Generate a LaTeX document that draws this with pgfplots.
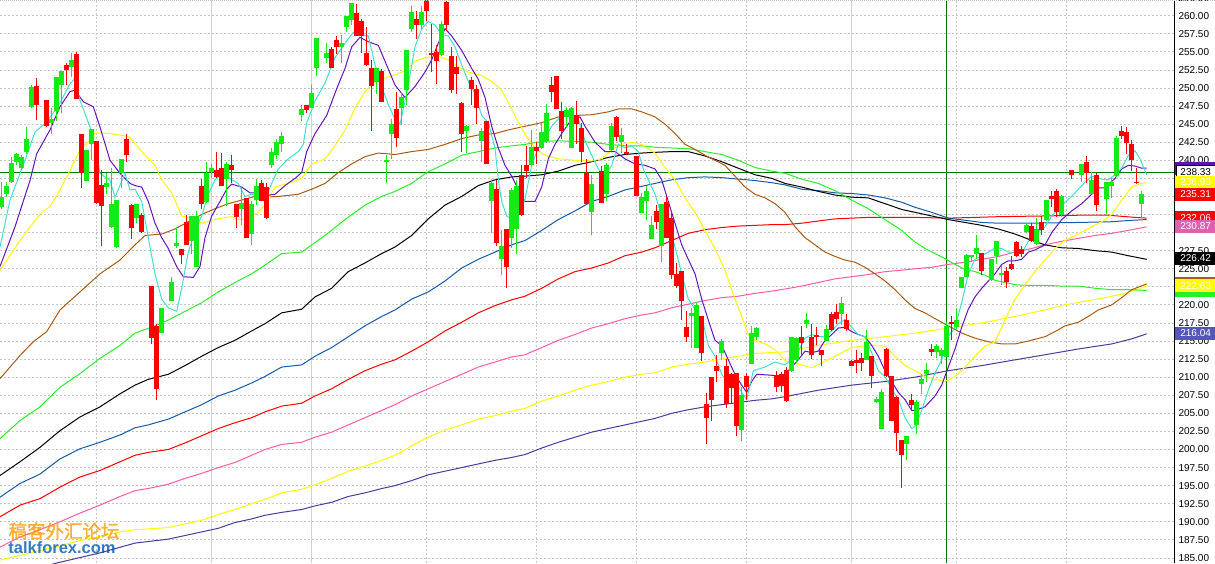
\documentclass[border=0pt]{standalone}
\usepackage{pgfplots}
\pgfplotsset{compat=1.18}
\usepackage{pgfplotstable}
\usepackage{fontspec}
\setmainfont{Liberation Sans}
\newfontfamily\cjk{Noto Sans CJK SC}[FakeBold=1.5]
\definecolor{cgreen}{RGB}{20,235,20}
\definecolor{cred}{RGB}{255,0,0}
\definecolor{macyan}{RGB}{64,224,208}
\definecolor{mapurple}{RGB}{100,20,190}
\definecolor{mayellow}{RGB}{255,255,0}
\definecolor{mabrown}{RGB}{170,90,20}
\definecolor{magreen}{RGB}{40,240,40}
\definecolor{mablue}{RGB}{20,90,170}
\definecolor{mapink}{RGB}{255,90,170}
\definecolor{maslate}{RGB}{70,60,160}
\definecolor{cursor}{RGB}{0,120,0}
\definecolor{boxpink}{RGB}{225,95,175}
\definecolor{boxblue}{RGB}{85,85,190}
\definecolor{boxpurple}{RGB}{90,20,180}

\pgfplotstableread{
x o h l c
1.5 233.6 237.0 233.3 234.9
6.5 235.4 237.0 234.9 236.5
11.5 237.0 240.5 236.8 239.6
16.5 239.8 241.0 239.4 240.9
21.5 238.9 240.7 238.7 240.5
26.5 241.2 244.6 240.9 242.9
31.5 247.4 250.4 247.2 250.2
51.5 245.2 247.3 243.6 245.7
56.5 246.8 251.5 245.5 251.5
61.5 250.4 252.3 246.5 252.3
71.5 252.9 254.9 251.5 253.9
86.5 237.2 241.4 237.2 241.4
91.5 242.3 244.3 240.0 244.3
106.5 236.3 238.3 235.3 236.9
111.5 230.8 238.9 230.7 234.0
116.5 228.0 234.5 227.9 234.5
121.5 238.3 240.2 236.1 240.2
136.5 232.0 233.9 231.3 233.9
161.5 216.1 219.6 216.1 219.6
171.5 220.6 223.8 220.6 223.2
176.5 228.1 230.6 227.9 228.6
191.5 228.8 232.3 227.1 232.3
196.5 225.2 233.0 225.2 232.3
206.5 234.2 239.8 234.1 238.2
211.5 238.4 239.5 237.5 238.9
226.5 237.4 239.7 233.7 239.5
241.5 233.2 236.1 231.0 234.1
251.5 229.8 234.3 228.3 233.9
256.5 234.5 237.4 233.8 236.5
271.5 239.3 241.7 238.9 241.1
276.5 240.7 243.0 240.2 242.5
281.5 242.2 243.9 241.2 243.4
301.5 246.3 247.7 245.5 247.1
311.5 247.2 250.4 247.2 249.3
316.5 252.8 256.9 251.7 256.9
326.5 254.2 256.2 253.5 254.9
341.5 255.7 257.3 253.5 256.2
346.5 258.5 260.0 257.7 259.9
351.5 259.4 261.7 258.7 261.7
376.5 250.8 252.7 249.2 252.7
386.5 239.7 240.7 236.8 240.0
391.5 243.6 245.7 240.2 245.0
401.5 247.2 249.5 244.9 248.8
406.5 249.7 255.3 247.7 255.3
411.5 258.2 261.4 257.7 260.5
421.5 258.7 261.4 258.2 260.5
441.5 254.6 259.3 254.4 258.9
466.5 244.0 244.9 241.0 244.8
481.5 242.7 244.5 239.8 244.1
491.5 234.4 237.4 230.0 236.9
501.5 226.4 230.3 224.2 228.1
511.5 229.2 236.2 227.8 235.9
516.5 230.5 237.3 227.1 236.4
531.5 239.4 244.2 239.3 241.8
541.5 241.7 245.1 241.5 243.9
546.5 242.6 247.8 242.4 246.6
566.5 246.0 247.4 244.5 247.0
571.5 241.7 247.4 241.7 247.2
591.5 232.9 237.9 229.7 236.7
606.5 235.4 239.6 234.3 239.4
611.5 241.4 245.1 241.3 244.7
621.5 242.5 244.5 241.0 243.5
641.5 232.7 235.5 232.7 234.9
646.5 234.4 236.5 231.8 235.7
651.5 229.1 232.3 229.1 231.0
661.5 228.2 233.9 225.9 233.9
691.5 218.4 219.6 214.0 218.9
696.5 214.0 220.4 214.0 220.0
721.5 213.4 215.3 212.4 215.0
741.5 202.7 208.6 201.2 207.6
751.5 211.8 217.1 211.8 216.1
756.5 215.5 217.0 215.1 216.8
791.5 210.8 215.6 210.7 215.6
796.5 212.4 215.6 212.0 215.4
806.5 217.4 218.9 216.8 217.9
826.5 215.0 217.2 215.0 216.6
841.5 218.8 221.1 217.2 220.3
866.5 212.4 216.5 212.4 214.9
876.5 206.5 207.2 206.4 207.0
881.5 202.8 208.4 202.8 208.0
906.5 200.8 201.8 198.6 201.8
916.5 203.4 206.9 202.2 206.6
921.5 209.0 210.4 207.7 209.7
926.5 210.4 212.0 209.4 211.0
936.5 213.5 214.6 212.6 214.3
941.5 212.9 214.0 211.8 213.8
946.5 212.8 217.6 212.8 217.1
956.5 216.9 219.6 216.7 217.9
961.5 222.3 223.8 222.3 223.8
966.5 223.9 227.0 223.8 226.9
971.5 226.6 226.9 225.9 226.9
976.5 227.1 229.6 226.4 227.8
991.5 223.4 226.4 223.3 226.4
996.5 226.7 228.8 225.7 228.8
1001.5 224.1 225.4 222.8 224.4
1026.5 230.1 231.3 229.9 231.0
1036.5 228.4 232.0 228.3 230.5
1046.5 231.7 234.5 231.6 234.5
1061.5 232.5 235.2 232.1 235.0
1081.5 238.0 239.5 237.0 239.5
1091.5 235.3 238.4 235.3 237.3
1106.5 234.7 237.0 232.6 237.0
1111.5 236.4 237.5 234.8 237.0
1116.5 237.8 243.3 237.7 243.1
1141.5 234.0 235.7 232.0 235.3
}\upc

\pgfplotstableread{
x o h l c
36.5 250.3 251.4 245.6 247.6
46.5 248.3 248.4 244.6 244.7
66.5 253.2 253.4 250.4 252.5
76.5 254.7 255.0 248.5 248.5
81.5 243.6 243.6 236.1 238.3
96.5 242.6 242.6 234.0 234.1
101.5 236.6 238.6 228.2 233.7
126.5 242.9 243.7 239.7 240.7
131.5 233.8 233.9 229.1 230.6
141.5 232.5 232.7 230.0 230.1
151.5 222.6 222.6 214.6 215.4
156.5 217.1 217.4 206.9 208.4
181.5 227.7 227.7 225.7 226.9
186.5 231.4 232.5 228.3 228.3
201.5 236.5 237.4 233.3 233.9
216.5 238.7 241.1 237.6 237.7
221.5 239.0 241.0 236.4 236.4
231.5 239.3 240.7 236.8 238.7
236.5 233.9 234.0 230.7 232.1
246.5 234.8 234.8 229.3 229.3
261.5 236.8 237.3 234.3 234.4
266.5 236.3 236.8 231.9 232.0
306.5 247.6 247.7 246.6 247.0
331.5 255.4 255.6 252.7 252.8
336.5 256.7 257.2 254.7 255.7
356.5 260.4 261.6 257.2 257.2
361.5 259.3 259.6 254.9 257.2
366.5 254.9 258.4 253.0 253.2
371.5 252.7 253.9 244.1 250.3
381.5 252.3 252.6 248.1 248.1
396.5 247.1 249.5 241.8 243.1
416.5 259.5 260.6 256.8 258.7
426.5 262.5 263.0 259.2 260.6
431.5 254.8 258.8 252.2 254.5
436.5 255.0 255.9 250.6 253.8
446.5 261.9 262.5 257.9 258.7
451.5 254.4 255.7 249.3 249.7
456.5 252.9 254.4 249.2 251.9
461.5 247.9 248.1 241.2 243.6
471.5 251.1 251.5 247.7 249.9
476.5 249.8 250.4 245.0 247.2
486.5 245.4 245.4 239.5 239.5
496.5 236.0 237.3 228.1 228.5
506.5 230.5 230.5 222.4 225.3
521.5 238.0 239.4 232.3 232.5
526.5 239.4 242.0 237.5 238.5
536.5 241.8 242.5 239.5 241.3
551.5 250.4 251.5 248.0 249.5
556.5 251.7 251.7 247.1 247.1
561.5 246.8 248.1 243.0 244.0
576.5 246.3 248.2 242.2 245.0
581.5 244.5 245.2 239.7 241.2
586.5 238.3 240.2 234.0 234.0
601.5 238.5 239.2 234.1 234.1
616.5 246.0 246.1 242.7 243.2
626.5 241.2 242.2 240.7 240.8
636.5 240.6 240.6 235.0 235.0
656.5 233.0 233.8 230.5 231.5
666.5 234.2 235.0 229.2 229.2
671.5 232.0 233.0 223.6 224.1
676.5 224.3 225.8 222.4 222.6
681.5 224.7 224.7 217.9 220.6
686.5 216.9 219.1 214.9 215.6
701.5 218.4 218.4 212.3 213.3
706.5 206.3 207.8 200.8 204.3
711.5 210.0 210.0 203.9 206.9
716.5 211.6 213.1 209.3 210.9
726.5 211.6 212.5 205.7 206.3
731.5 210.5 210.6 206.4 208.5
736.5 210.6 210.6 201.9 203.2
746.5 210.2 210.6 206.8 208.7
776.5 210.3 210.9 207.9 208.7
781.5 210.4 210.7 207.9 208.8
786.5 211.0 211.4 206.5 206.7
801.5 215.6 217.1 212.9 214.7
811.5 215.5 217.4 212.5 213.0
816.5 215.8 216.9 214.5 215.6
821.5 213.7 213.8 211.6 213.0
831.5 218.8 219.0 216.4 216.5
836.5 219.0 220.1 217.3 218.1
846.5 217.9 218.7 216.4 216.6
851.5 212.3 212.4 211.5 211.6
856.5 212.4 213.7 210.6 212.0
861.5 212.6 213.3 210.8 212.0
871.5 212.9 212.9 208.5 210.1
886.5 213.9 214.1 210.0 210.1
891.5 210.1 210.1 204.0 204.0
896.5 207.3 207.4 199.8 202.3
901.5 201.3 201.3 194.7 199.3
911.5 206.8 207.7 205.4 206.2
931.5 213.9 214.6 212.9 213.5
951.5 217.7 218.4 215.1 217.3
981.5 227.2 227.2 224.1 224.7
1006.5 224.7 225.3 222.4 223.1
1011.5 225.6 226.7 224.8 224.9
1016.5 228.7 228.9 226.6 226.8
1021.5 227.7 228.2 226.6 227.1
1031.5 230.9 231.3 228.7 228.8
1041.5 231.4 232.3 229.7 230.4
1051.5 235.1 235.8 233.5 234.7
1056.5 235.7 236.0 232.1 232.9
1071.5 238.6 238.7 237.4 237.9
1086.5 239.8 240.6 236.8 238.3
1096.5 237.9 238.2 233.0 233.8
1121.5 244.1 244.8 243.0 243.3
1126.5 243.9 244.6 240.8 242.4
1131.5 242.2 242.8 238.5 240.0
1136.5 237.0 239.0 236.7 236.8
}\downc

\tikzset{vbox/.style={anchor=west, minimum width=40.5pt, minimum height=13pt, inner sep=0pt, font=\fontsize{10}{12}\selectfont, text=white}}
\pgfplotsset{candle/.style={draw=none, mark=none, forget plot, error bars/.cd, y dir=plus, y explicit, error mark=none}}

\begin{document}
\begin{tikzpicture}
\useasboundingbox (0,0) rectangle (1215pt,563pt);
\begin{axis}[
 at={(0,0)}, anchor=south west,
 width=1174.3pt, height=563pt, scale only axis,
 xmin=0, xmax=1174.3, ymin=184.30, ymax=262.17,
 axis line style={draw=none},
 clip mode=individual,
 xtick={96.7,426.7,536.7,636.7,746.7,956.7,1066.7},
 extra x ticks={211.7,311.7,851.7},
 extra x tick style={grid style={solid, gray!35, line width=0.9pt}},
 xticklabels={}, extra x tick labels={},
 ytick={185,187.5,...,260},
 yticklabels={185.00,187.50,190.00,192.50,195.00,197.50,200.00,202.50,205.00,207.50,210.00,212.50,215.00,217.50,220.00,{},225.00,227.50,{},{},{},{},240.00,242.50,245.00,247.50,250.00,252.50,255.00,257.50,260.00},
 yticklabel pos=right,
 major tick length=0pt,
 xmajorgrids, ymajorgrids,
 grid style={gray!45, line width=0.8pt, dash pattern=on 2pt off 2pt},
 yticklabel style={anchor=west, font=\fontsize{10}{12}\selectfont, inner sep=0pt, xshift=4pt},
]
% cursor
\addplot[cursor, line width=1.2pt, forget plot] coordinates {(0,238.33) (1174.3,238.33)};
\addplot[cursor, line width=1pt, forget plot] coordinates {(946.7,184.3) (946.7,262.17)};

% long MAs
\addplot[maslate, line width=1pt] coordinates {(0,182.0) (56.7,184.3) (100,185.7) (135,187.05) (168.3,187.6) (201.7,188.6) (218.3,189.1) (235,189.9) (251.7,190.4) (265,190.9) (281.7,191.3) (301.7,191.7) (315,192.2) (331.7,192.7) (348.3,193.5) (365,194.0) (381.7,194.6) (395,195.0) (411.7,195.7) (428.3,196.5) (445,197.0) (461.7,197.5) (478.3,198.0) (495,198.5) (511.7,198.9) (525,199.3) (541.7,200.2) (558.3,201.0) (575,201.7) (591.7,202.4) (608.3,202.9) (625,203.4) (641.7,203.9) (655,204.3) (671.7,205.0) (688.3,205.5) (705,205.9) (721.7,206.2) (738.3,206.5) (755,206.8) (771.7,207.0) (785,207.3) (818.3,208.2) (851.7,208.9) (885,209.4) (915,210.0) (948.3,210.9) (981.7,211.6) (1015,212.4) (1045,213.1) (1078.3,213.9) (1111.7,214.6) (1131.7,215.3) (1146.7,216.0)};
\addplot[mayellow, line width=1pt] coordinates {(0,184.7) (40,186.0) (80,187.4) (120,188.6) (135,188.9) (168.3,189.2) (201.7,190.2) (218.3,191.0) (235,191.7) (251.7,192.5) (265,193.1) (281.7,194.0) (301.7,194.5) (315,195.1) (331.7,196.0) (348.3,197.0) (365,197.7) (381.7,198.5) (395,199.2) (411.7,200.5) (428.3,201.7) (445,202.7) (461.7,203.4) (478.3,204.2) (495,204.7) (511.7,205.3) (525,205.7) (541.7,206.7) (558.3,207.4) (575,208.2) (591.7,208.9) (608.3,209.4) (625,210.0) (641.7,210.4) (655,210.6) (671.7,211.4) (688.3,211.8) (705,212.1) (721.7,212.5) (738.3,212.9) (755,213.3) (771.7,213.4) (785,213.5) (818.3,214.4) (851.7,215.1) (885,215.6) (915,216.1) (948.3,216.8) (981.7,217.5) (1015,218.4) (1045,219.3) (1065,220.0) (1085,220.5) (1105,221.0) (1125,221.6) (1146.7,222.6)};
\addplot[mapink, line width=1pt] coordinates {(0,186.5) (20,187.9) (40,188.9) (60,190.0) (80,191.2) (100,192.3) (120,193.5) (135,194.3) (151.7,194.7) (168.3,195.2) (185,196.0) (201.7,196.7) (218.3,197.5) (235,198.2) (251.7,199.2) (265,200.0) (281.7,200.7) (301.7,201.0) (315,201.7) (331.7,202.4) (348.3,203.4) (365,204.4) (381.7,205.4) (395,206.2) (411.7,207.4) (428.3,208.4) (445,209.4) (461.7,210.4) (478.3,211.4) (495,212.1) (511.7,212.8) (525,213.1) (541.7,214.1) (558.3,215.1) (575,215.9) (591.7,216.8) (608.3,217.4) (625,218.1) (641.7,218.6) (655,218.9) (671.7,219.6) (688.3,220.1) (705,220.6) (721.7,221.0) (738.3,221.2) (755,221.6) (771.7,221.9) (785,222.2) (801.7,222.6) (818.3,223.1) (835,223.6) (851.7,223.9) (868.3,224.2) (885,224.6) (901.7,224.8) (915,225.0) (931.7,225.2) (948.3,225.6) (965,225.9) (981.7,226.3) (998.3,226.7) (1015,227.3) (1031.7,227.8) (1045,228.3) (1061.7,228.8) (1078.3,229.2) (1095,229.6) (1111.7,229.9) (1128.3,230.3) (1146.7,230.8)};
\addplot[cred, line width=1pt] coordinates {(0,190.7) (20,192.3) (40,193.2) (60,194.8) (80,196.2) (100,197.1) (120,198.3) (135,199.2) (148.3,199.6) (168.3,200.0) (185,200.9) (201.7,201.9) (218.3,202.9) (235,203.7) (251.7,204.4) (265,205.2) (281.7,206.0) (301.7,206.4) (315,207.4) (331.7,208.4) (348.3,209.7) (365,210.9) (381.7,211.8) (395,212.4) (411.7,213.6) (428.3,214.9) (445,216.4) (461.7,217.6) (478.3,218.9) (495,219.9) (511.7,220.7) (525,221.2) (541.7,222.3) (558.3,223.6) (575,224.6) (591.7,225.1) (608.3,225.8) (625,226.8) (641.7,227.3) (655,227.9) (671.7,228.9) (688.3,229.9) (705,230.4) (721.7,230.7) (738.3,230.9) (755,231.0) (771.7,231.1) (785,231.1) (801.7,231.3) (818.3,231.6) (835,231.9) (851.7,232.0) (868.3,232.1) (885,232.1) (915,232.1) (948.3,232.0) (975,232.1) (998.3,232.2) (1045,232.3) (1078.3,232.4) (1108.3,232.4) (1135,232.1) (1146.7,232.0)};
\addplot[mablue, line width=1pt] coordinates {(0,193.4) (20,195.3) (40,196.6) (60,198.7) (80,200.1) (100,201.0) (120,202.0) (135,203.0) (148.3,203.4) (168.3,204.2) (185,205.2) (201.7,206.2) (218.3,207.4) (235,208.2) (251.7,209.2) (265,210.1) (281.7,211.4) (301.7,211.7) (315,212.9) (331.7,214.1) (348.3,215.6) (365,217.1) (381.7,218.4) (395,219.3) (411.7,220.8) (428.3,221.8) (445,223.3) (461.7,225.1) (478.3,226.3) (495,227.3) (511.7,228.3) (525,228.9) (541.7,230.3) (558.3,231.8) (575,233.0) (591.7,234.3) (608.3,235.0) (625,235.9) (641.7,236.4) (655,236.8) (671.7,237.3) (688.3,237.6) (705,237.7) (721.7,237.6) (738.3,237.4) (755,237.2) (771.7,236.9) (785,236.6) (801.7,236.0) (818.3,235.8) (835,235.5) (851.7,235.4) (868.3,235.2) (885,234.8) (901.7,234.2) (915,233.5) (931.7,232.8) (948.3,232.0) (965,231.7) (981.7,231.4) (998.3,231.3) (1031.7,231.3) (1078.3,231.4) (1111.7,231.5) (1131.7,231.7) (1146.7,231.8)};
\addplot[black, line width=1pt] coordinates {(0,196.4) (20,198.3) (40,200.3) (60,202.6) (80,204.5) (100,205.9) (120,207.7) (135,208.9) (148.3,209.7) (168.3,210.4) (185,211.6) (201.7,212.9) (218.3,214.1) (235,215.1) (251.7,216.4) (265,217.4) (281.7,218.9) (301.7,219.4) (315,221.1) (331.7,222.3) (348.3,224.6) (365,225.8) (381.7,227.1) (395,228.0) (411.7,229.6) (428.3,231.9) (445,233.8) (461.7,235.0) (478.3,236.5) (495,237.3) (511.7,237.7) (525,237.8) (541.7,238.0) (558.3,238.5) (575,239.3) (591.7,239.8) (608.3,240.4) (625,240.8) (641.7,241.0) (655,241.1) (671.7,241.2) (688.3,241.2) (705,240.6) (721.7,239.8) (738.3,238.9) (755,238.0) (771.7,237.5) (785,236.8) (801.7,236.3) (818.3,235.7) (835,235.2) (851.7,234.9) (868.3,234.8) (885,234.0) (901.7,233.2) (915,232.8) (931.7,232.3) (948.3,231.8) (965,231.4) (981.7,231.0) (998.3,230.5) (1015,229.8) (1028.3,229.1) (1045,228.3) (1061.7,227.9) (1078.3,227.8) (1095,227.5) (1111.7,227.3) (1128.3,226.8) (1146.7,226.3)};
\addplot[magreen, line width=1pt] coordinates {(0,201.5) (20,204.0) (40,205.9) (60,208.6) (80,210.5) (100,212.6) (120,214.4) (135,216.1) (155,217.1) (168.3,217.9) (185,219.1) (201.7,220.3) (218.3,221.8) (235,223.1) (251.7,224.3) (265,225.5) (281.7,227.1) (301.7,227.3) (311.7,228.3) (325,229.6) (345,231.8) (365,233.8) (381.7,235.0) (395,235.7) (411.7,236.8) (426.7,238.3) (445,239.5) (461.7,240.7) (478.3,241.2) (495,241.7) (511.7,242.0) (525,242.2) (541.7,242.6) (558.3,242.7) (575,242.6) (591.7,242.5) (608.3,242.2) (625,242.0) (641.7,242.0) (655,241.8) (671.7,241.7) (688.3,241.6) (705,241.2) (721.7,240.8) (738.3,240.0) (755,239.0) (771.7,238.5) (785,238.2) (801.7,237.4) (818.3,236.8) (835,235.8) (851.7,234.5) (868.3,233.3) (885,231.8) (901.7,230.3) (915,228.7) (925,227.8) (935,227.1) (945,226.4) (955,225.6) (965,224.9) (975,224.6) (985,224.1) (995,223.4) (1005,223.1) (1015,222.8) (1025,222.7) (1045,222.7) (1061.7,222.6) (1078.3,222.6) (1095,222.3) (1111.7,222.1) (1128.3,222.1) (1146.7,222.0)};
\addplot[mabrown, line width=1pt] coordinates {(0,209.8) (20,213.0) (33.3,214.9) (46.7,216.3) (60,219.3) (80,221.8) (100,224.3) (120,226.2) (135,228.3) (145,229.6) (161.7,229.8) (175,230.5) (188.3,231.5) (201.7,232.5) (215,233.3) (228.3,234.0) (241.7,234.5) (255,235.0) (265,234.9) (278.3,235.0) (298.3,235.3) (311.7,236.0) (325,236.8) (338.3,238.3) (351.7,239.5) (365,240.5) (378.3,241.0) (395,240.8) (411.7,241.2) (428.3,241.5) (445,242.2) (461.7,243.0) (478.3,243.5) (495,243.7) (508.3,244.2) (525,244.7) (541.7,245.2) (558.3,246.0) (575,246.2) (591.7,246.3) (608.3,246.7) (618.3,247.1) (631.7,247.1) (641.7,246.7) (655,246.0) (665,245.0) (675,243.7) (685,242.2) (695,241.5) (705,240.7) (715,240.0) (725,239.3) (735,237.8) (745,236.3) (755,235.3) (765,234.8) (775,234.0) (785,232.8) (795,230.8) (805,229.3) (815,228.3) (825,227.3) (835,226.7) (845,226.2) (855,225.9) (865,225.2) (875,224.3) (885,223.3) (895,222.1) (905,220.7) (915,219.5) (925,218.9) (935,218.1) (948.3,217.1) (961.7,216.1) (975,215.4) (988.3,214.9) (1001.7,214.6) (1015,214.6) (1028.3,215.0) (1045,215.6) (1055,216.3) (1065,217.1) (1078.3,217.6) (1088.3,218.4) (1098.3,219.3) (1111.7,220.0) (1121.7,221.0) (1131.7,222.1) (1146.7,222.9)};
% MA20 yellow
\addplot[mayellow, line width=1pt] coordinates {(0,224.8) (20,228.9) (40,232.6) (50,233.6) (60,235.9) (70,238.6) (80,241.4) (90,242.8) (95,243.8) (110,243.7) (120,243.5) (130,243.2) (135,242.3) (145,240.7) (155,239.3) (161.7,237.3) (171.7,235.5) (181.7,232.3) (190,232.0) (201.7,231.3) (211.7,231.7) (221.7,232.0) (231.7,232.2) (238.3,231.8) (248.3,231.9) (258.3,232.8) (265,233.9) (275,236.3) (288.3,236.8) (301.7,237.5) (311.7,239.5) (325,240.2) (335,242.0) (345,244.2) (355,247.2) (365,249.5) (375,250.9) (385,251.4) (395,251.8) (405,252.4) (415,253.7) (425,254.2) (438.3,254.4) (448.3,253.9) (458.3,252.9) (468.3,252.2) (481.7,251.7) (491.7,250.9) (501.7,249.7) (508.3,248.0) (516.7,245.7) (525,243.6) (535,241.7) (545,240.7) (558.3,240.2) (575,240.0) (591.7,239.9) (601.7,240.2) (611.7,241.5) (621.7,242.2) (631.7,242.5) (641.7,242.2) (655,241.0) (665,239.0) (675,237.3) (685,234.8) (695,232.8) (705,230.3) (715,227.8) (725,224.8) (735,220.8) (741.7,218.4) (748.3,215.9) (755,215.1) (765,214.6) (775,213.8) (785,212.3) (811.7,211.3) (835,212.9) (851.7,214.1) (868.3,214.4) (885,214.3) (895,212.9) (905,211.6) (915,210.9) (925,210.1) (935,209.7) (945,209.4) (955,210.1) (965,211.4) (975,212.9) (985,214.3) (995,214.9) (1001.7,216.9) (1008.3,218.9) (1015,220.8) (1025,222.8) (1035,224.6) (1045,226.2) (1055,227.8) (1065,228.9) (1078.3,229.8) (1091.7,230.8) (1101.7,231.5) (1111.7,232.5) (1121.7,234.5) (1131.7,236.3) (1141.7,236.8) (1146.7,236.9)};
% MA10 purple
\addplot[mapurple, line width=1pt] coordinates {(0,225.3) (15,230.8) (30,237.2) (36.7,240.9) (50,244.2) (60,247.4) (70,249.5) (75,249.7) (83.3,248.1) (93.3,247.4) (100,244.6) (110,240.0) (120,238.2) (130,236.8) (135,236.5) (141.7,236.3) (148.3,234.3) (155,231.3) (161.7,229.3) (168.3,227.8) (176.7,225.3) (183.3,223.9) (193.3,223.8) (200,225.3) (205,229.3) (211.7,232.3) (220,234.3) (226.7,236.0) (231.7,236.7) (241.7,236.3) (250,235.5) (256.7,235.5) (265,235.1) (275,235.3) (285,236.5) (295,237.5) (301.7,238.3) (306.7,241.2) (315,243.7) (326.7,246.2) (336.7,249.9) (345,252.7) (351.7,255.7) (360,257.0) (368.3,256.4) (378.3,255.9) (385,253.7) (395,250.4) (405,248.7) (415,250.2) (425,252.2) (431.7,253.9) (438.3,256.2) (445,258.2) (451.7,257.2) (461.7,255.2) (471.7,252.7) (478.3,251.2) (485,248.7) (491.7,244.7) (498.3,241.7) (505,239.3) (511.7,237.8) (518.3,236.0) (525,234.3) (535,234.3) (541.7,236.3) (548.3,240.2) (555,242.2) (561.7,243.7) (571.7,245.7) (580,246.0) (585,244.7) (595,242.5) (605,241.2) (615,241.2) (625,240.2) (635,239.5) (645,239.3) (655,238.8) (661.7,237.3) (668.3,234.3) (675,231.3) (681.7,228.3) (688.3,226.3) (695,224.3) (701.7,220.8) (708.3,217.9) (715,215.1) (721.7,214.4) (728.3,212.4) (735,210.4) (741.7,208.9) (746.7,207.9) (751.7,209.4) (756.7,210.4) (768.3,210.3) (778.3,210.2) (785,210.4) (791.7,211.4) (798.3,212.4) (805,213.6) (811.7,213.4) (818.3,213.6) (825,215.1) (831.7,215.9) (838.3,216.8) (845,216.9) (851.7,216.3) (858.3,215.9) (865,215.6) (871.7,214.4) (878.3,212.9) (885,210.9) (891.7,209.4) (898.3,207.9) (905,206.9) (911.7,205.4) (915,205.4) (925,205.9) (935,207.4) (941.7,208.9) (948.3,211.4) (955,213.9) (961.7,216.9) (968.3,219.4) (975,221.1) (981.7,222.3) (988.3,223.3) (995,224.3) (1001.7,225.6) (1008.3,226.1) (1015,226.1) (1021.7,226.3) (1028.3,227.3) (1035,227.6) (1045,228.3) (1051.7,230.0) (1061.7,231.8) (1071.7,233.0) (1081.7,234.0) (1091.7,235.3) (1098.3,236.2) (1105,236.2) (1115,237.5) (1121.7,238.8) (1128.3,239.3) (1135,239.2) (1141.7,238.9) (1146.7,238.9)};
% MA5 cyan
\addplot[macyan, line width=1pt] coordinates {(0,228.0) (10,234.5) (25,240.0) (35,243.9) (45,245.1) (58,247.4) (70,250.6) (75,251.3) (80,248.3) (90,244.6) (95,241.9) (100,238.2) (110,237.2) (115,234.9) (125,238.2) (130,235.9) (135,236.0) (141.7,234.3) (148.3,229.3) (155,224.3) (161.7,220.8) (168.3,219.6) (176.7,219.1) (181.7,222.3) (188.3,227.3) (195,230.3) (201.7,232.3) (208.3,235.3) (215,237.3) (223.3,238.3) (231.7,237.3) (238.3,236.8) (245,235.0) (251.7,235.3) (258.3,235.0) (265,234.5) (271.7,236.8) (278.3,238.8) (288.3,240.2) (298.3,241.2) (303.3,242.2) (306.7,245.2) (315,248.2) (325,250.7) (335,254.2) (345,256.2) (353.3,257.7) (361.7,257.4) (368.3,257.2) (375,253.2) (381.7,250.2) (388.3,247.7) (395,245.7) (400,245.0) (406.7,249.2) (415,255.7) (421.7,258.2) (428.3,259.2) (435,258.7) (441.7,257.4) (448.3,257.2) (455,255.7) (461.7,253.2) (468.3,250.9) (475,249.2) (481.7,246.2) (488.3,245.2) (495,241.7) (498.3,237.3) (501.7,234.3) (506.7,232.3) (511.7,231.8) (516.7,232.0) (525,234.6) (531.7,239.3) (538.3,241.7) (545,243.2) (551.7,244.7) (558.3,245.7) (565,246.7) (571.7,246.5) (578.3,245.7) (585,242.7) (591.7,240.7) (598.3,238.8) (605,237.8) (611.7,239.3) (618.3,242.2) (625,241.7) (631.7,242.0) (638.3,241.2) (643.3,238.8) (648.3,237.3) (655,235.3) (661.7,232.3) (671.7,229.8) (681.7,224.3) (688.3,220.8) (695,219.4) (703.3,217.4) (708.3,214.4) (715,212.9) (721.7,210.4) (726.7,209.4) (735,209.4) (741.7,207.9) (746.7,206.9) (753.3,210.9) (765,211.4) (775,212.1) (785,211.7) (791.7,212.4) (798.3,213.6) (805,215.4) (811.7,215.9) (818.3,215.6) (825,215.6) (831.7,216.4) (838.3,217.4) (845,218.0) (851.7,216.9) (858.3,215.9) (865,215.6) (871.7,213.4) (878.3,210.9) (885,210.1) (891.7,208.4) (898.3,206.9) (905,204.4) (911.7,202.9) (915,203.2) (921.7,205.4) (928.3,208.2) (935,210.6) (941.7,212.4) (948.3,215.6) (955,216.9) (961.7,220.3) (968.3,224.3) (975,226.3) (981.7,226.8) (988.3,227.3) (995,227.9) (1001.7,227.8) (1008.3,227.3) (1015,227.3) (1021.7,227.1) (1028.3,228.8) (1035,229.8) (1045,230.8) (1051.7,232.3) (1061.7,233.8) (1071.7,235.0) (1081.7,236.5) (1091.7,237.8) (1101.7,237.4) (1108.3,237.3) (1115,238.0) (1121.7,238.9) (1128.3,240.7) (1135,241.3) (1140,240.2) (1146.7,238.0)};

% candles: wicks
\addplot[candle, error bar style={line width=1pt, draw=cgreen}]
  table[x=x, y=l, y error plus expr={\thisrow{h}-\thisrow{l}}] {\upc};
\addplot[candle, error bar style={line width=1pt, draw=cred}]
  table[x=x, y=l, y error plus expr={\thisrow{h}-\thisrow{l}}] {\downc};
% candles: bodies
\addplot[candle, error bar style={line width=4.4pt, draw=cgreen}]
  table[x=x, y=o, y error plus expr={max(\thisrow{c}-\thisrow{o},0.25)}] {\upc};
\addplot[candle, error bar style={line width=4.4pt, draw=cred}]
  table[x=x, y=c, y error plus expr={max(\thisrow{o}-\thisrow{c},0.25)}] {\downc};

% right axis line
\draw[black, line width=1.6pt] (rel axis cs:1,0) -- (rel axis cs:1,1);
% cut label at top
\node[anchor=west, font=\fontsize{10}{12}\selectfont, inner sep=0pt] at (axis cs:1178.3,262.5) {262.50};

% value boxes
\node[vbox, fill=boxpurple] at (axis cs:1175.2,238.9) {};
\node[vbox, fill=white, draw=black, line width=0.8pt, text=black, minimum width=39.5pt] at (axis cs:1175.6,238.33) {238.33};
\node[vbox, fill=mayellow] at (axis cs:1175.2,236.93) {236.93};
\node[vbox, fill=cred] at (axis cs:1175.2,235.31) {235.31};
\node[vbox, fill=cred] at (axis cs:1175.2,232.06) {232.06};
\node[vbox, fill=boxpink] at (axis cs:1175.2,230.87) {230.87};
\node[vbox, fill=black] at (axis cs:1175.2,226.42) {226.42};
\node[vbox, fill=mabrown] at (axis cs:1175.2,222.9) {};
\node[vbox, fill=magreen] at (axis cs:1175.2,222.0) {};
\node[vbox, fill=mayellow] at (axis cs:1175.2,222.63) {222.63};
\node[vbox, fill=boxblue] at (axis cs:1175.2,216.04) {216.04};
\end{axis}
% top dotted border
\draw[gray!45, line width=1.5pt, dash pattern=on 1pt off 1pt] (0,562.5pt) -- (1215pt,562.5pt);
% watermark
\node[text=orange!80!yellow, opacity=0.75, font=\cjk\fontsize{18.5}{20}\selectfont, inner sep=0pt] at (64pt,32pt) {稿客外汇论坛};
\node[text=blue!50!cyan!70!black, opacity=0.8, font=\bfseries\fontsize{16.5}{18}\selectfont, inner sep=0pt] at (62pt,15pt) {talkforex.com};
\end{tikzpicture}
\end{document}
